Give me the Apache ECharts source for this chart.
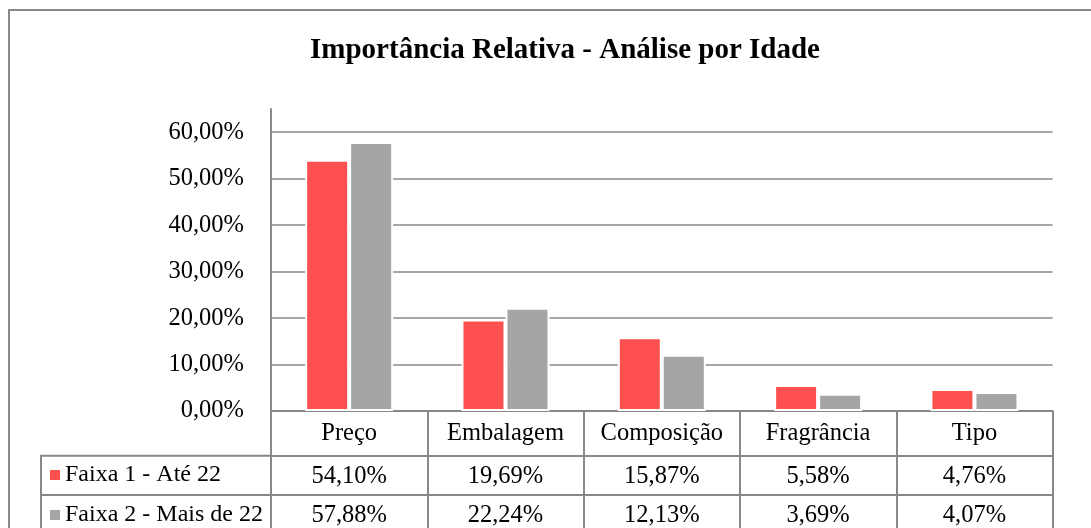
<!DOCTYPE html>
<html>
<head>
<meta charset="utf-8">
<script src="https://cdn.jsdelivr.net/npm/echarts@6/dist/echarts.min.js"></script>
<style>
html,body{margin:0;padding:0;background:#fff;}
#chart{width:1091px;height:528px;}
</style>
</head>
<body>
<div id="chart"></div>
<script>
var titleText = 'Importância Relativa - Análise por Idade';
var categories = ['Preço', 'Embalagem', 'Composição', 'Fragrância', 'Tipo'];
var seriesNames = ['Faixa 1 - Até 22', 'Faixa 2 - Mais de 22'];
var faixa1 = [54.10, 19.69, 15.87, 5.58, 4.76];
var faixa2 = [57.88, 22.24, 12.13, 3.69, 4.07];
var yTicks = [0, 10, 20, 30, 40, 50, 60];
var colors = ['#FF5050', '#A5A5A5'];

var FONT = "'Liberation Serif', 'Times New Roman', serif";
var LINE = '#888888';
var FS = 24.5;

function pct(v) { return v.toFixed(2).replace('.', ',') + '%'; }

var chart = echarts.init(document.getElementById('chart'), null, {renderer: 'canvas'});

var option = {
  animation: false,
  backgroundColor: '#fff',
  textStyle: {fontFamily: FONT},
  grid: {left: 271, right: 38.4, top: 109, bottom: 117, containLabel: false},
  legend: {
    data: seriesNames,
    orient: 'vertical',
    left: 50,
    top: 463,
    height: 200,
    padding: 0,
    itemWidth: 10,
    itemHeight: 10,
    itemGap: 16,
    icon: 'rect',
    selectedMode: false,
    itemStyle: {borderWidth: 0},
    textStyle: {fontFamily: FONT, fontSize: 24, color: '#000', lineHeight: 24}
  },
  xAxis: [
    {
      type: 'category',
      data: categories,
      position: 'bottom',
      axisLine: {show: true, lineStyle: {color: LINE, width: 2}},
      axisTick: {show: true, interval: 0, length: 124, lineStyle: {color: LINE, width: 2}},
      axisLabel: {interval: 0, margin: 10, color: '#000', fontFamily: FONT, fontSize: FS},
      splitLine: {show: false}
    },
    {
      type: 'category',
      data: categories,
      position: 'bottom',
      offset: 44.7,
      axisLine: {show: true, lineStyle: {color: LINE, width: 2}},
      axisTick: {show: false},
      axisLabel: {interval: 0, margin: 8, color: '#000', fontFamily: FONT, fontSize: FS,
        formatter: function (v, i) { return pct(faixa1[i]); }},
      splitLine: {show: false}
    },
    {
      type: 'category',
      data: categories,
      position: 'bottom',
      offset: 84,
      axisLine: {show: true, lineStyle: {color: LINE, width: 2}},
      axisTick: {show: false},
      axisLabel: {interval: 0, margin: 8, color: '#000', fontFamily: FONT, fontSize: FS,
        formatter: function (v, i) { return pct(faixa2[i]); }},
      splitLine: {show: false}
    }
  ],
  yAxis: {
    type: 'value',
    min: yTicks[0],
    max: 65,
    interval: 10,
    axisLine: {show: true, lineStyle: {color: LINE, width: 2}},
    axisTick: {show: false},
    axisLabel: {
      margin: 27, color: '#000', fontFamily: FONT, fontSize: FS, showMaxLabel: false,
      formatter: function (v) { return yTicks.indexOf(v) >= 0 ? pct(v) : ''; }
    },
    splitLine: {show: true, showMaxLine: false, lineStyle: {color: LINE, width: 1.6}}
  },
  series: [
    {
      name: seriesNames[0], type: 'bar', xAxisIndex: 0, data: faixa1,
      barWidth: 44, barGap: '0%',
      itemStyle: {color: colors[0], borderColor: '#fff', borderWidth: 2}
    },
    {
      name: seriesNames[1], type: 'bar', xAxisIndex: 0, data: faixa2,
      barWidth: 44, barGap: '0%',
      itemStyle: {color: colors[1], borderColor: '#fff', borderWidth: 2}
    }
  ],
  graphic: [
    {type: 'rect', shape: {x: 9, y: 10, width: 1300, height: 800},
      style: {fill: 'none', stroke: LINE, lineWidth: 2}, silent: true, z: -1},
    {type: 'text', x: 565, y: 51,
      style: {text: titleText, font: 'bold 29px ' + FONT, fill: '#000', align: 'center', verticalAlign: 'middle'}},
    {type: 'rect', shape: {x: 41, y: 455.7, width: 230, height: 120},
      style: {fill: 'none', stroke: LINE, lineWidth: 2}, silent: true},
    {type: 'line', shape: {x1: 41, y1: 495, x2: 271, y2: 495},
      style: {stroke: LINE, lineWidth: 2}, silent: true}
  ]
};
chart.setOption(option);
</script>
</body>
</html>
